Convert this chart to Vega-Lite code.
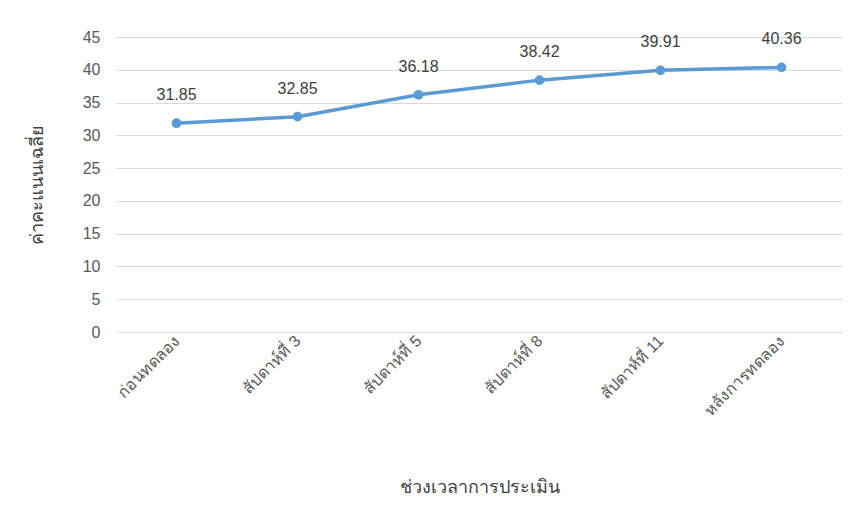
{
  "$schema": "https://vega.github.io/schema/vega-lite/v6.json",
  "width": 726,
  "height": 295,
  "autosize": {"type": "none"},
  "padding": {"left": 116, "top": 37, "right": 13, "bottom": 188},
  "background": "white",
  "config": {
    "view": {"stroke": null},
    "font": "Liberation Sans"
  },
  "data": {
    "values": [
      {"period": "ก่อนทดลอง", "score": 31.85},
      {"period": "สัปดาห์ที่ 3", "score": 32.85},
      {"period": "สัปดาห์ที่ 5", "score": 36.18},
      {"period": "สัปดาห์ที่ 8", "score": 38.42},
      {"period": "สัปดาห์ที่ 11", "score": 39.91},
      {"period": "หลังการทดลอง", "score": 40.36}
    ]
  },
  "encoding": {
    "x": {
      "field": "period",
      "type": "nominal",
      "sort": null,
      "scale": {"paddingInner": 0, "paddingOuter": 0.5},
      "axis": {
        "title": "ช่วงเวลาการประเมิน",
        "titleFontSize": 18,
        "titleFontWeight": "normal",
        "titleColor": "#404040",
        "titleY": 146,
        "titleBaseline": "top",
        "labelAngle": -45,
        "labelAlign": "right",
        "labelBaseline": "middle",
        "labelFontSize": 16,
        "labelColor": "#595959",
        "labelPadding": 6,
        "domain": false,
        "ticks": false,
        "grid": false
      }
    },
    "y": {
      "field": "score",
      "type": "quantitative",
      "scale": {"domain": [0, 45]},
      "axis": {
        "title": "ค่าคะแนนเฉลี่ย",
        "titleFontSize": 18,
        "titleFontWeight": "normal",
        "titleColor": "#404040",
        "titleX": -70,
        "titleY": 147,
        "titleAngle": -90,
        "titleAlign": "center",
        "titleBaseline": "bottom",
        "values": [0, 5, 10, 15, 20, 25, 30, 35, 40, 45],
        "labelFontSize": 16,
        "labelColor": "#595959",
        "labelPadding": 16,
        "domain": false,
        "ticks": false,
        "grid": true,
        "gridColor": "#d9d9d9",
        "gridWidth": 1
      }
    }
  },
  "layer": [
    {
      "mark": {"type": "line", "color": "#5B9BD5", "strokeWidth": 3.5}
    },
    {
      "mark": {"type": "point", "filled": true, "color": "#5B9BD5", "size": 95, "opacity": 1}
    },
    {
      "mark": {"type": "text", "dy": -28, "fontSize": 16, "color": "#404040"},
      "encoding": {
        "text": {"field": "score", "type": "quantitative", "format": ".2f"}
      }
    }
  ]
}
